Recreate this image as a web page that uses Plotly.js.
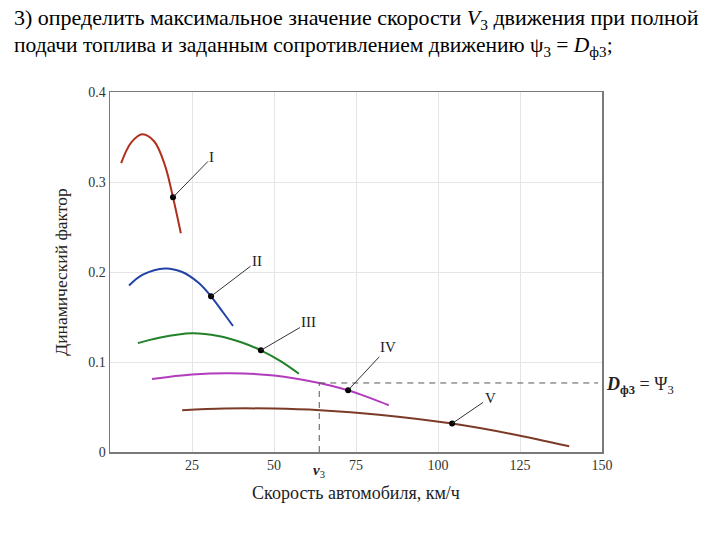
<!DOCTYPE html>
<html><head><meta charset="utf-8">
<script src="https://cdn.plot.ly/plotly-3.0.1.min.js"></script>
<style>html,body{margin:0;padding:0;background:#fff}#chart{width:720px;height:540px}</style>
</head><body><div id="chart"></div>
<script>
// Curves: speed (km/h) and dynamic factor
const gearNames = ['I','II','III','IV','V'];
const gearColors = ['#b0301f','#2342a6','#21822a','#b23cbd','#7b3b27'];
const speedI = [3.4, 6.5, 9.9, 13.5, 16.8, 19.2, 21.6];
const dynI   = [0.321, 0.344, 0.353, 0.345, 0.318, 0.283, 0.243];
const speedII = [5.8, 10, 16.8, 22, 27, 30.8, 34.5, 37.5];
const dynII   = [0.185, 0.197, 0.204, 0.200, 0.188, 0.173, 0.155, 0.140];
const speedIII = [8.5, 15, 25, 33, 40, 46, 52, 57.6];
const dynIII   = [0.121, 0.127, 0.132, 0.129, 0.122, 0.113, 0.101, 0.087];
const speedIV = [12.8, 25, 36.6, 50, 63.8, 72.6, 80, 85];
const dynIV   = [0.081, 0.086, 0.0875, 0.085, 0.0767, 0.0686, 0.059, 0.052];
const speedV = [22, 35, 50, 64, 82, 104.3, 122, 140];
const dynV   = [0.0465, 0.0483, 0.0482, 0.0464, 0.0415, 0.0316, 0.0203, 0.0063];
// labelled points on each curve
const pointSpeed = [19.2, 30.8, 46, 72.6, 104.3];
const pointDyn   = [0.283, 0.173, 0.113, 0.0686, 0.0316];
// resistance level and resulting speed
const psi3 = 0.0767;
const v3Speed = 63.8;
const psiLineEnd = 148.8;
const xTicks = [25, 50, 75, 100, 125, 150];
const yTicks = [0, 0.1, 0.2, 0.3, 0.4];
const yTickText = ['0', '0.1', '0.2', '0.3', '0.4'];
const titleLines = [
  '3)\u00A0определить максимальное\u00A0значение скорости\u00A0<i>V</i><sub>3</sub> движения\u00A0при полной',
  'подачи топлива и заданным сопротивлением движению ψ<sub>3</sub> = <i>D</i><sub>ф3</sub>;'
];

const serif = 'Liberation Serif, Times New Roman, serif';
const sx = [speedI, speedII, speedIII, speedIV, speedV];
const sy = [dynI, dynII, dynIII, dynIV, dynV];
const traces = sx.map((x, i) => ({
  x: x, y: sy[i], type: 'scatter', mode: 'lines', name: gearNames[i],
  line: {color: gearColors[i], width: 2, shape: 'spline', smoothing: 1.0},
  hoverinfo: 'skip'
}));
traces.push({x: [v3Speed, psiLineEnd], y: [psi3, psi3], type: 'scatter', mode: 'lines',
  line: {color: '#555', width: 1, dash: '6px,5px'}, hoverinfo: 'skip'});
traces.push({x: [v3Speed, v3Speed], y: [0, psi3], type: 'scatter', mode: 'lines',
  line: {color: '#555', width: 1, dash: '6px,5px'}, hoverinfo: 'skip'});
traces.push({x: pointSpeed, y: pointDyn, type: 'scatter', mode: 'markers',
  marker: {color: '#000', size: 6}, hoverinfo: 'skip'});

const offsets = [[39,-40],[46,-35],[48,-28],[40,-43],[38,-26]];
const annotations = gearNames.map((n, i) => ({
  x: pointSpeed[i], y: pointDyn[i], xref: 'x', yref: 'y', text: n,
  showarrow: true, arrowhead: 0, arrowwidth: 1, arrowcolor: '#333',
  ax: offsets[i][0], ay: offsets[i][1], standoff: 0,
  font: {family: serif, size: 15, color: '#222'}
}));
annotations.push({x: v3Speed, y: 0, xref: 'x', yref: 'y', yshift: -19, showarrow: false,
  text: '<b><i>v</i></b><sub>3</sub>', font: {family: serif, size: 15, color: '#222'}});
annotations.push({x: 1.005, xref: 'paper', y: psi3, yref: 'y', xanchor: 'left', yshift: -3, showarrow: false,
  text: '<b><i>D</i><sub>ф3</sub></b> = Ψ<sub>3</sub>', font: {family: serif, size: 18, color: '#222'}});
annotations.push({x: -98/490, xref: 'paper', xanchor: 'left', y: (452-19)/360, yref: 'paper', yanchor: 'middle',
  showarrow: false, align: 'left', text: titleLines[0], font: {family: serif, size: 22, color: '#000'}});
annotations.push({x: -98/490, xref: 'paper', xanchor: 'left', y: (452-46)/360, yref: 'paper', yanchor: 'middle',
  showarrow: false, align: 'left', text: titleLines[1], font: {family: serif, size: 21.5, color: '#000'}});

const layout = {
  width: 720, height: 540,
  margin: {l: 110, r: 118, t: 92, b: 88},
  paper_bgcolor: '#fff', plot_bgcolor: '#fff',
  showlegend: false,
  xaxis: {
    range: [0, 150], tickvals: xTicks, ticktext: xTicks.map(String),
    showgrid: true, gridcolor: '#e5e5e5', gridwidth: 1,
    showline: true, linecolor: '#7a7a7a', linewidth: 1.5, mirror: true,
    zeroline: false, ticks: '',
    tickfont: {family: serif, size: 14, color: '#333'},
    title: {text: 'Скорость автомобиля, км/ч', font: {family: serif, size: 18, color: '#222'}, standoff: 14}
  },
  yaxis: {
    range: [0, 0.4], tickvals: yTicks, ticktext: yTickText,
    showgrid: true, gridcolor: '#e5e5e5', gridwidth: 1,
    showline: true, linecolor: '#7a7a7a', linewidth: 1.5, mirror: true,
    zeroline: false, ticks: '',
    tickfont: {family: serif, size: 14, color: '#333'},
    title: {text: 'Динамический фактор', font: {family: serif, size: 17.5, color: '#222'}, standoff: 16}
  },
  annotations: annotations
};
Plotly.newPlot('chart', traces, layout, {staticPlot: true, displayModeBar: false});
</script></body></html>
